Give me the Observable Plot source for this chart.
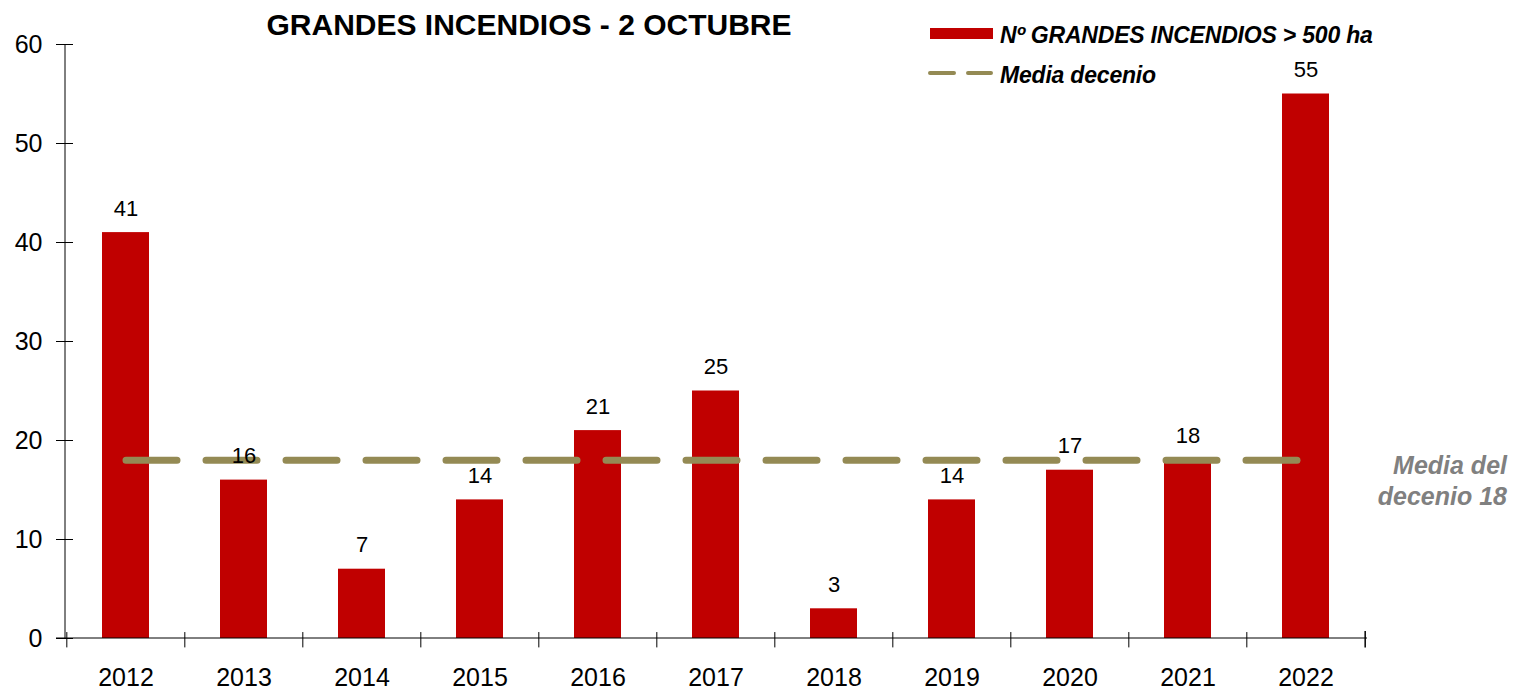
<!DOCTYPE html>
<html>
<head>
<meta charset="utf-8">
<script src="https://cdn.jsdelivr.net/npm/d3@7"></script>
<script src="https://cdn.jsdelivr.net/npm/@observablehq/plot@0.6"></script>
<style>
  html, body { margin: 0; padding: 0; background: #fff; }
  #chart { position: relative; width: 1514px; height: 690px; }
  svg { font-family: "Liberation Sans", Arial, sans-serif; }
</style>
</head>
<body>
<div id="chart"></div>
<script>
const years = ["2012","2013","2014","2015","2016","2017","2018","2019","2020","2021","2022"];
const fires = [41, 16, 7, 14, 21, 25, 3, 14, 17, 18, 55];
const decadeMean = 18;
const yTicks = [0, 10, 20, 30, 40, 50, 60];
const titleText = "GRANDES INCENDIOS - 2 OCTUBRE";
const seriesLabel = "Nº GRANDES INCENDIOS > 500 ha";
const meanLabel = "Media decenio";
const noteLines = ["Media del", "decenio 18"];

const data = years.map((y, i) => ({year: y, value: fires[i]}));
const meanLine = [{year: years[0], value: decadeMean}, {year: years[years.length - 1], value: decadeMean}];

const W = 1514, H = 690, ML = 65, MR = 147, MT = 44, MB = 52;
const step = (W - ML - MR) / years.length;
const RED = "#C00000", OLIVE = "#948A54", GREY = "#808080";

const chart = Plot.plot({
  width: W, height: H,
  marginLeft: ML, marginRight: MR, marginTop: MT, marginBottom: MB,
  style: {fontFamily: "Liberation Sans, Arial, sans-serif", color: "#000", background: "#fff"},
  x: {domain: years, paddingInner: 0.6, paddingOuter: 0.3, label: null},
  y: {domain: [0, 60], label: null},
  marks: [
    Plot.axisY({ticks: yTicks, tickSize: 17, dx: 8, tickFormat: () => "", label: null}),
    Plot.axisY({ticks: yTicks, tickSize: 0, tickPadding: 23, fontSize: 25, label: null}),
    Plot.axisX({tickSize: 0, tickPadding: 30, fontSize: 25, label: null}),
    Plot.barY(data, {x: "year", y: "value", fill: RED}),
    Plot.lineY(meanLine, {x: "year", y: "value", stroke: OLIVE, strokeWidth: 7, strokeDasharray: "51,29", strokeLinecap: "round"}),
    Plot.text(data, {x: "year", y: "value", text: d => String(d.value), lineAnchor: "bottom", dy: -17, fontSize: 22, fill: "#000"}),
    Plot.ruleX(years, {x: d => d, y1: 0.6, y2: -0.95, dx: -step / 2, stroke: "#000", strokeWidth: 1}),
    Plot.ruleX([years[years.length - 1]], {x: d => d, y1: 0.7, y2: -0.95, dx: step / 2, stroke: "#000", strokeWidth: 1.5})
  ]
});

const svg = d3.select(chart);
// axis lines
svg.append("line").attr("x1", ML).attr("x2", ML).attr("y1", MT).attr("y2", H - MB).attr("stroke", "#000");
svg.append("line").attr("x1", ML - 9).attr("x2", W - MR).attr("y1", H - MB).attr("y2", H - MB).attr("stroke", "#000");

// title
svg.append("text").attr("x", 529).attr("y", 35).attr("text-anchor", "middle")
  .attr("font-size", 30).attr("font-weight", "bold").attr("fill", "#000").text(titleText);

// legend
svg.append("rect").attr("x", 930).attr("y", 28).attr("width", 63).attr("height", 11).attr("fill", RED);
svg.append("text").attr("x", 1000).attr("y", 43).attr("text-anchor", "start").attr("font-size", 23).attr("font-weight", "bold")
  .attr("font-style", "italic").attr("letter-spacing", -0.2).attr("fill", "#000").text(seriesLabel);
svg.append("line").attr("x1", 930).attr("x2", 991).attr("y1", 73).attr("y2", 73)
  .attr("stroke", OLIVE).attr("stroke-width", 4).attr("stroke-dasharray", "24,14").attr("stroke-linecap", "round");
svg.append("text").attr("x", 1000).attr("y", 83).attr("text-anchor", "start").attr("font-size", 23).attr("font-weight", "bold")
  .attr("font-style", "italic").attr("letter-spacing", -0.2).attr("fill", "#000").text(meanLabel);

// annotation
noteLines.forEach((t, i) => {
  svg.append("text").attr("x", 1507).attr("y", 474 + i * 31).attr("text-anchor", "end")
    .attr("font-size", 25).attr("font-weight", "bold").attr("font-style", "italic").attr("fill", GREY).text(t);
});

document.getElementById("chart").appendChild(chart);
</script>
</body>
</html>
